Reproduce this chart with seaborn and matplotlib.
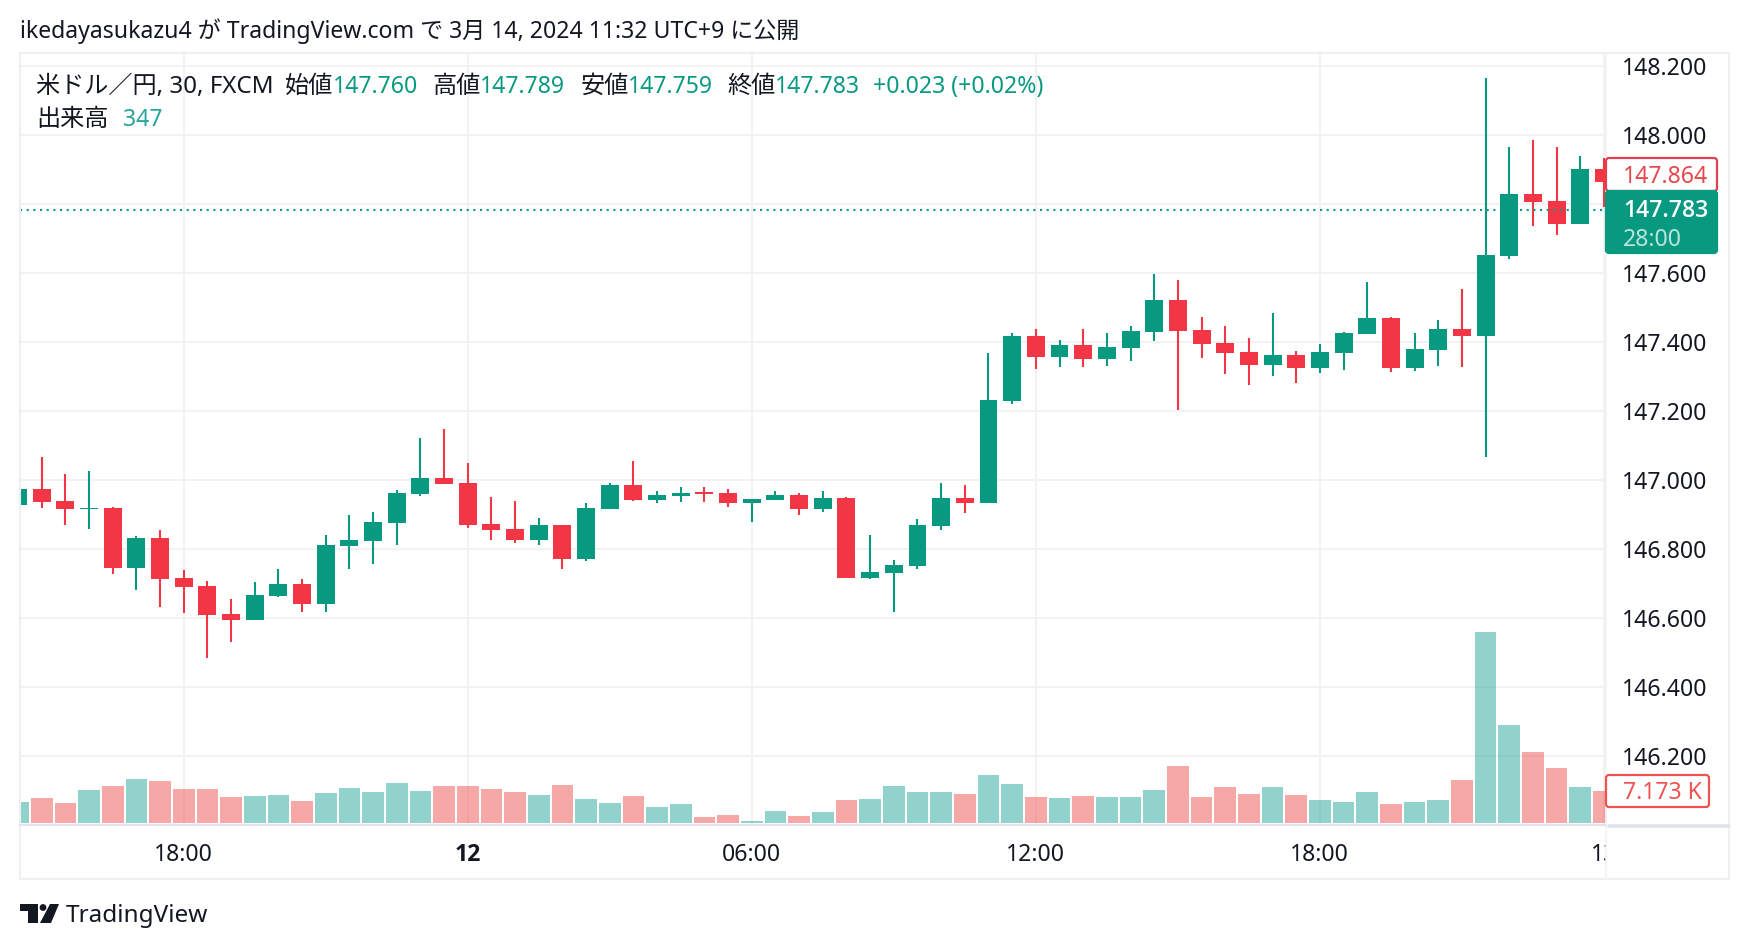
"""
USD/JPY 30 minute candles with volume, TradingView snapshot look
"""

import numpy as np
import pandas as pd
import matplotlib
matplotlib.use("Agg")
import matplotlib.pyplot as plt
import seaborn as sns
from matplotlib.patches import Circle, FancyBboxPatch, Polygon, Rectangle
from matplotlib.transforms import Bbox

# ---------------------------------------------
# DATA
# ---------------------------------------------

opens = [146.929, 146.974, 146.939, 146.917, 146.919, 146.746, 146.832, 146.716, 146.693, 146.612,
         146.595, 146.665, 146.699, 146.642, 146.810, 146.824, 146.876, 146.960, 147.006, 146.991,
         146.872, 146.858, 146.827, 146.870, 146.772, 146.917, 146.986, 146.943, 146.955, 146.965,
         146.962, 146.934, 146.943, 146.957, 146.917, 146.948, 146.717, 146.731, 146.752, 146.868,
         146.948, 146.934, 147.230, 147.417, 147.357, 147.391, 147.352, 147.384, 147.430, 147.522,
         147.435, 147.397, 147.371, 147.334, 147.362, 147.326, 147.369, 147.424, 147.470, 147.326,
         147.378, 147.438, 147.418, 147.649, 147.829, 147.809, 147.743, 147.901]
closes = [146.974, 146.937, 146.917, 146.920, 146.746, 146.832, 146.714, 146.691, 146.610, 146.595,
          146.667, 146.699, 146.642, 146.812, 146.826, 146.878, 146.962, 147.006, 146.989, 146.871,
          146.856, 146.827, 146.870, 146.772, 146.919, 146.986, 146.943, 146.957, 146.962, 146.960,
          146.934, 146.945, 146.957, 146.917, 146.948, 146.717, 146.733, 146.754, 146.870, 146.948,
          146.934, 147.232, 147.417, 147.357, 147.391, 147.352, 147.386, 147.432, 147.522, 147.433,
          147.395, 147.369, 147.334, 147.362, 147.326, 147.371, 147.426, 147.470, 147.326, 147.380,
          147.438, 147.418, 147.652, 147.829, 147.806, 147.743, 147.901, 147.865]
highs = [146.974, 147.066, 147.017, 147.026, 146.921, 146.838, 146.855, 146.739, 146.707, 146.655,
         146.704, 146.742, 146.713, 146.841, 146.899, 146.907, 146.971, 147.122, 147.148, 147.049,
         146.951, 146.939, 146.890, 146.870, 146.933, 146.991, 147.055, 146.968, 146.980, 146.980,
         146.974, 146.945, 146.968, 146.962, 146.968, 146.951, 146.841, 146.768, 146.887, 146.991,
         146.986, 147.368, 147.425, 147.438, 147.406, 147.438, 147.426, 147.446, 147.597, 147.580,
         147.472, 147.446, 147.412, 147.484, 147.374, 147.394, 147.429, 147.574, 147.472, 147.426,
         147.464, 147.554, 148.165, 147.965, 147.986, 147.965, 147.939, 147.933]
lows = [146.929, 146.920, 146.870, 146.858, 146.729, 146.681, 146.633, 146.615, 146.485, 146.531,
        146.595, 146.661, 146.618, 146.618, 146.743, 146.757, 146.813, 146.954, 146.989, 146.862,
        146.827, 146.818, 146.813, 146.743, 146.766, 146.917, 146.940, 146.934, 146.937, 146.937,
        146.923, 146.879, 146.943, 146.900, 146.908, 146.717, 146.713, 146.618, 146.743, 146.856,
        146.905, 146.934, 147.221, 147.323, 147.329, 147.329, 147.331, 147.346, 147.404, 147.204,
        147.355, 147.308, 147.276, 147.302, 147.282, 147.311, 147.320, 147.424, 147.314, 147.317,
        147.331, 147.329, 147.066, 147.642, 147.737, 147.711, 147.743, 147.792]
# volume in thousands
volumes = [4.82, 5.73, 4.59, 7.54, 8.44, 10.02, 9.57, 7.76, 7.76, 5.95,
           6.18, 6.40, 5.05, 6.86, 7.99, 7.08, 9.12, 7.31, 8.44, 8.44,
           7.76, 7.08, 6.40, 8.67, 5.50, 4.59, 6.18, 3.69, 4.37, 1.43,
           1.88, 0.52, 2.78, 1.65, 2.56, 5.27, 5.50, 8.44, 7.08, 7.08,
           6.63, 10.93, 8.89, 5.95, 5.73, 6.18, 5.95, 5.95, 7.54, 12.97,
           5.95, 8.08, 6.50, 8.08, 6.27, 5.14, 4.68, 6.95, 4.23, 4.68,
           5.14, 9.66, 43.16, 22.11, 16.00, 12.38, 8.08, 7.17]

price_ticks = [146.2, 146.4, 146.6, 146.8, 147.0, 147.2, 147.4, 147.6, 147.8, 148.0, 148.2]
# 147.800 sits under the last price tag in the reference
price_tick_labels = ["146.200", "146.400", "146.600", "146.800", "147.000", "147.200",
                     "147.400", "147.600", "", "148.000", "148.200"]
time_tick_bars = [7, 19, 31, 43, 55, 67]
time_tick_labels = ["18:00", "12", "06:00", "12:00", "18:00", "13"]
last_price = 147.783

GREEN = "#089981"
RED = "#f23645"
VOL_GREEN = "#26a69a"
VOL_RED = "#ef5350"
GRID = "#f2f2f3"
FRAME = "#eeeff0"
INK = "#131722"
FS = 16.6
FS_CJK = 17.4

# ---------------------------------------------
# SETUP
# ---------------------------------------------

sns.set_theme(style="white")
plt.rcParams["font.family"] = ["Noto Sans", "Noto Sans CJK JP", "DejaVu Sans"]

W, H = 1750, 950
LEFT, RIGHT, TOP, BOTTOM = 20, 1606, 53, 826

df = pd.DataFrame({"bar": np.arange(len(opens)), "open": opens, "close": closes,
                   "high": highs, "low": lows, "volume": volumes})
df["side"] = np.where(df["close"] >= df["open"], "up", "down")
df["color"] = df["side"].map({"up": GREEN, "down": RED})

fig = plt.figure(figsize=(W / 100, H / 100), dpi=100, facecolor="white")
ax = fig.add_axes([LEFT / W, 1 - BOTTOM / H, (RIGHT - LEFT) / W, (BOTTOM - TOP) / H])

# ---------------------------------------------
# PRICE PANE
# ---------------------------------------------

ax.set_ylim(145.997, 148.238)
ax.grid(True, color=GRID, lw=1.4, zorder=0)
ax.set_axisbelow(True)

ax.vlines(df["bar"], df["low"], df["high"], colors=df["color"], lw=1.5, zorder=3)
ax.bar(df["bar"], (df["close"] - df["open"]).abs(), bottom=df[["open", "close"]].min(axis=1),
       width=0.76, color=df["color"], linewidth=0, zorder=4)
ax.axhline(last_price, color=GREEN, lw=1.5, ls=(0, (1, 2.2)), zorder=5)
for side in ax.spines.values():
    side.set_visible(False)

# ---------------------------------------------
# VOLUME PANE
# ---------------------------------------------

vol_ax = ax.twinx()
sns.barplot(data=df, x="bar", y="volume", hue="side", palette={"up": VOL_GREEN, "down": VOL_RED},
            native_scale=True, dodge=False, width=0.92, alpha=0.5, saturation=1,
            linewidth=0, legend=False, ax=vol_ax)
vol_ax.set_ylim(-0.68, 174.25)
vol_ax.set_yticks([])
vol_ax.set_xlabel("")
vol_ax.set_ylabel("")
for side in vol_ax.spines.values():
    side.set_visible(False)

# ticks go last, twinx and barplot both reset them
ax.set_xlim(0.08, 67.09)
ax.yaxis.tick_right()
ax.set_yticks(price_ticks)
ax.set_yticklabels(price_tick_labels, fontsize=FS, color=INK)
ax.tick_params(axis="y", length=0, pad=11.5)
ax.set_xlabel("")
ax.set_xticks(time_tick_bars)
ax.set_xticklabels(time_tick_labels, fontsize=FS, color=INK)
ax.tick_params(axis="x", length=0, pad=12)
# the date label is heavier than the hours
ax.get_xticklabels()[1].set_fontfamily("Open Sans")
ax.get_xticklabels()[1].set_fontweight("bold")
# the last date label is cut off by the price scale
ax.get_xticklabels()[-1].set_clip_box(Bbox([[0, 0], [RIGHT, H]]))
ax.get_xticklabels()[-1].set_clip_on(True)

# ---------------------------------------------
# OVERLAY: frame, labels, header, logo (figure pixels)
# ---------------------------------------------

ov = fig.add_axes([0, 0, 1, 1], facecolor="none")
ov.set_xlim(0, W)
ov.set_ylim(H, 0)
ov.axis("off")

ov.add_patch(Rectangle((LEFT, TOP), 1729 - LEFT, 879 - TOP, fill=False, ec=FRAME, lw=1.5))
ov.plot([RIGHT, RIGHT], [TOP, 879], color=GRID, lw=1.2)
ov.plot([LEFT, RIGHT], [824.5, 824.5], color="#e0e3eb", lw=1.5)
ov.plot([1609, 1729], [826, 826], color="#e0e3eb", lw=2.6)


def price_box(y0, y1, x1, face, edge):
    ov.add_patch(FancyBboxPatch((RIGHT + 2, y0 + 2), x1 - RIGHT - 4, y1 - y0 - 4,
                                boxstyle="round,pad=2,rounding_size=3",
                                fc=face, ec=edge, lw=1.6, zorder=6))


price_box(158, 191, 1717, "white", "#e0404f")
ov.text(1623, 177, "147.864", color="#e5484f", fontsize=FS, va="center", zorder=7)
price_box(191, 253, 1717, GREEN, GREEN)
ov.text(1623, 211, "147.783", color="white", fontsize=FS, family="Open Sans", fontweight="semibold",
        va="center", zorder=7)
ov.text(1623, 240, "28:00", color="#b8e6dc", fontsize=FS, va="center", zorder=7)
price_box(775, 807, 1709, "white", VOL_RED)
ov.text(1623, 793, "7.173 K", color=VOL_RED, fontsize=FS, va="center", zorder=7)

ov.text(20, 31, "ikedayasukazu4 が TradingView.com で 3月 14, 2024 11:32 UTC+9 に公開",
        color=INK, fontsize=FS, va="center")

header = [(285, "始値", INK), (333, "147.760", GREEN),
          (432, "高値", INK), (480, "147.789", GREEN), (581, "安値", INK), (628, "147.759", GREEN),
          (727, "終値", INK), (775, "147.783", GREEN), (873, "+0.023 (+0.02%)", GREEN)]
ov.text(36, 87, "米ドル／円, 30, FXCM", color=INK, fontsize=FS_CJK, va="center")
for x, label, color in header:
    ov.text(x, 87, label, color=color, fontsize=FS_CJK if color == INK else FS, va="center")
ov.text(36, 120, "出来高", color=INK, fontsize=FS_CJK, va="center")
ov.text(123, 120, "347", color=VOL_GREEN, fontsize=FS, va="center")

ov.add_patch(Polygon([(20, 904), (38, 904), (38, 923), (28, 923), (28, 911), (20, 911)], fc=INK, lw=0))
ov.add_patch(Circle((43, 907.5), 3.4, fc=INK, lw=0))
ov.add_patch(Polygon([(50, 904), (59, 904), (51, 923), (40, 923)], fc=INK, lw=0))
ov.text(66, 916, "TradingView", color=INK, fontsize=17.5, va="center")

fig.savefig("out.png", dpi=100)
